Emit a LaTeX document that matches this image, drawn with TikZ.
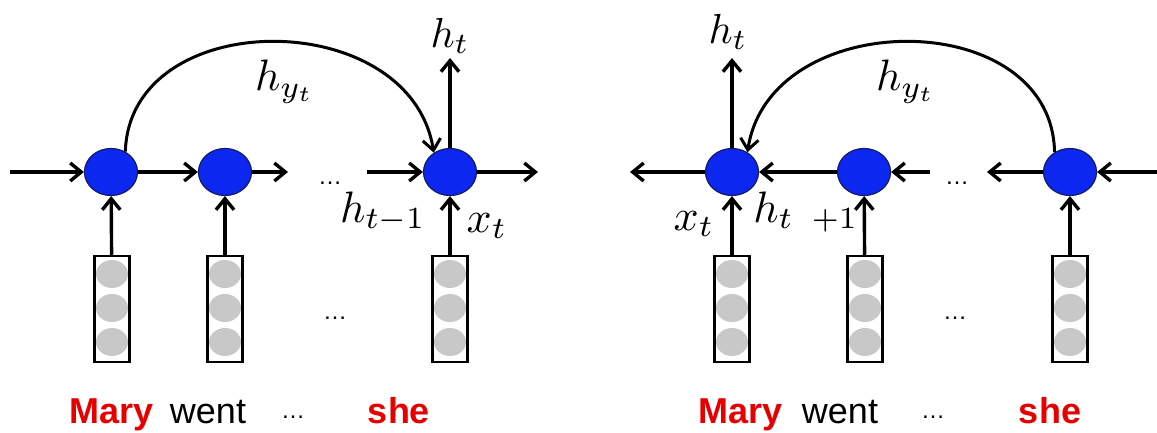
\documentclass[tikz,border=0pt]{standalone}
\usepackage{graphicx}
\usepackage[no-math]{fontspec}
\newfontfamily\arialfont{Liberation Sans}
\usetikzlibrary{shapes.geometric,arrows.meta}
\definecolor{nodeblue}{RGB}{12,40,240}
\definecolor{nodeedge}{RGB}{20,25,100}
\definecolor{wordred}{RGB}{230,0,0}
\definecolor{cellgray}{RGB}{200,200,200}
\newcommand{\bigmath}[1]{\scalebox{4.4}{$#1$}}
\newcommand{\topmath}[1]{\scalebox{4.2}{$#1$}}
\tikzset{
  rnn/.style={ellipse, draw=nodeedge, line width=1.2pt, fill=nodeblue, minimum width=53pt, minimum height=47pt, inner sep=0pt},
  vecbox/.style={rectangle, draw=black, line width=2.5pt, minimum width=35pt, minimum height=106pt, inner sep=0pt},
  cell/.style={ellipse, fill=cellgray, minimum width=32pt, minimum height=28pt, inner sep=0pt},
  conn/.style={line width=3.4pt, -{Straight Barb[length=11pt,width=18pt]}},
  mlab/.style={inner sep=0pt},
  word/.style={font=\arialfont\fontsize{36}{40}\selectfont, anchor=base},
  redword/.style={word, font=\arialfont\bfseries\fontsize{36}{40}\selectfont, text=wordred},
  dots/.style={font=\arialfont\fontsize{24}{28}\selectfont}
}
\begin{document}
\begin{tikzpicture}[x=1pt,y=-1pt]
\useasboundingbox (0,0) rectangle (1157,432);
% ---------- left panel ----------
\node[rnn] (n1) at (111,172) {};
\node[rnn] (n2) at (225,172) {};
\node[rnn] (n3) at (450,172) {};
\coordinate (lin) at (10,172);
\coordinate (n2out) at (288,172);
\coordinate (n3in) at (367,172);
\coordinate (n3out) at (538,172);
\coordinate (n3up) at (450,58);
\draw[conn] (lin) -- (n1);
\draw[conn] (n1) -- (n2);
\draw[conn] (n2) -- (n2out);
\draw[conn] (n3in) -- (n3);
\draw[conn] (n3) -- (n3out);
\draw[conn] (n3) -- (n3up);
\draw[conn, line width=3pt] (n1.55) .. controls (130,5) and (410,5) .. (n3.130);
\node[dots] (ldotsa) at (330,183) {\ldots};
\node[mlab] (lht) at (450,36) {\topmath{h_t}};
\node[mlab] (lhy) at (285,82) {\bigmath{h_{y_t}}};
\node[mlab] (lhtm) at (383,212) {\bigmath{h_{t-1}}};
\node[mlab] (lxt) at (487,226) {\bigmath{x_t}};
\foreach \nm/\xx in {b1/112, b2/225, b3/450}{
  \node[vecbox] (\nm) at (\xx,309) {};
  \node[cell] at (\xx,274) {};
  \node[cell] at (\xx,308) {};
  \node[cell] at (\xx,342) {};
}
\draw[conn] (b1) -- (n1);
\draw[conn] (b2) -- (n2);
\draw[conn] (b3) -- (n3);
\node[dots] (ldotsb) at (335,318) {\ldots};
\node[redword] (lmary) at (112,423) {Mary};
\node[word] (lwent) at (208,423) {went};
\node[dots, anchor=base] (ldotsc) at (293,418) {\ldots};
\node[redword] (lshe) at (399,423) {she};
% ---------- right panel ----------
\node[rnn] (m1) at (732,172) {};
\node[rnn] (m2) at (864,172) {};
\node[rnn] (m3) at (1070,172) {};
\coordinate (rin) at (1160,172);
\coordinate (m3out) at (987,172);
\coordinate (m2in) at (930,172);
\coordinate (m1out) at (630,172);
\coordinate (m1up) at (732,58);
\draw[conn] (rin) -- (m3);
\draw[conn] (m3) -- (m3out);
\draw[conn] (m2in) -- (m2);
\draw[conn] (m2) -- (m1);
\draw[conn] (m1) -- (m1out);
\draw[conn] (m1) -- (m1up);
\draw[conn, line width=3pt] (m3.128) .. controls (1052,5) and (770,5) .. (m1.52);
\node[dots] (rdotsa) at (957,183) {\ldots};
\node[mlab] (rht) at (728,32) {\topmath{h_t}};
\node[mlab] (rhy) at (906,82) {\bigmath{h_{y_t}}};
\node[mlab] (rxt) at (694,224) {\bigmath{x_t}};
\node[mlab] (rhtp) at (806,212) {\bigmath{h_{t\;\;+1}}};
\foreach \nm/\xx in {c1/732, c2/865, c3/1070}{
  \node[vecbox] (\nm) at (\xx,309) {};
  \node[cell] at (\xx,274) {};
  \node[cell] at (\xx,308) {};
  \node[cell] at (\xx,342) {};
}
\draw[conn] (c1) -- (m1);
\draw[conn] (c2) -- (m2);
\draw[conn] (c3) -- (m3);
\node[dots] (rdotsb) at (955,318) {\ldots};
\node[redword] (rmary) at (741,423) {Mary};
\node[word] (rwent) at (840,423) {went};
\node[dots, anchor=base] (rdotsc) at (933,418) {\ldots};
\node[redword] (rshe) at (1050,423) {she};
\end{tikzpicture}
\end{document}
